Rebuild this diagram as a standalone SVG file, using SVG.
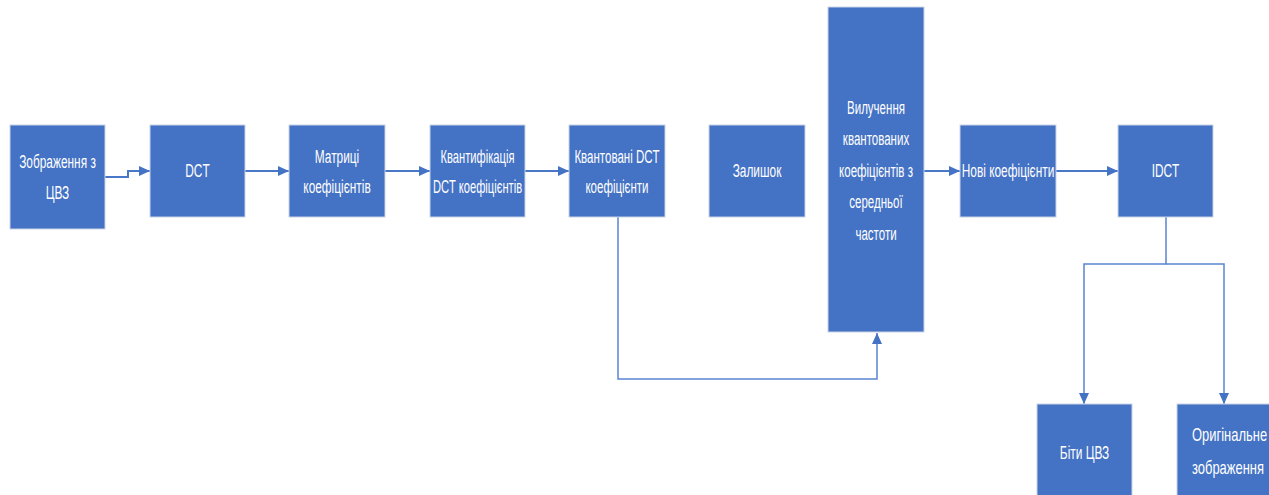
<svg xmlns="http://www.w3.org/2000/svg" width="1269" height="495" viewBox="0 0 1269 495">
<defs>
<style>
.box{fill:#4472C4;stroke:#c9d3e6;stroke-width:1}
.t{font-family:"Liberation Sans",Arial,sans-serif;font-size:18px;fill:#ffffff;text-anchor:middle}
.ts{font-family:"Liberation Sans",Arial,sans-serif;font-size:18px;fill:#ffffff;text-anchor:start}
.c{fill:none;stroke:#4a78c8;stroke-width:2}
.c2{fill:none;stroke:#5a84cf;stroke-width:1.5}
</style>
<marker id="ah" markerUnits="userSpaceOnUse" markerWidth="12" markerHeight="12" viewBox="0 0 12 12" refX="11" refY="6" orient="auto">
<path d="M0,1 L11,6 L0,11 Z" fill="#4472C4"/>
</marker>
</defs>
<rect width="1269" height="495" fill="#ffffff"/>
<g id="connectors">
<path class="c" d="M105,177 H128 V171 H150" marker-end="url(#ah)"/>
<path class="c" d="M245,171 H289" marker-end="url(#ah)"/>
<path class="c" d="M385,171 H430" marker-end="url(#ah)"/>
<path class="c" d="M525,171 H569" marker-end="url(#ah)"/>
<path class="c2" d="M618,217 V379 H877 V333" marker-end="url(#ah)"/>
<path class="c" d="M924,171 H960" marker-end="url(#ah)"/>
<path class="c" d="M1056,171 H1118" marker-end="url(#ah)"/>
<path class="c2" d="M1166,217 V264 H1084 V404" marker-end="url(#ah)"/>
<path class="c2" d="M1166,264 H1224 V404" marker-end="url(#ah)"/>
</g>
<g id="n1">
<rect class="box" x="10" y="125" width="95" height="104"/>
<text class="t" transform="translate(57.5,0) scale(0.66,1)"><tspan x="0" y="168">Зображення з</tspan><tspan x="0" y="199">ЦВЗ</tspan></text>
</g>
<g id="n2">
<rect class="box" x="150" y="125" width="95" height="92"/>
<text class="t" transform="translate(197.5,0) scale(0.66,1)" y="177">DCT</text>
</g>
<g id="n3">
<rect class="box" x="289" y="125" width="96" height="92"/>
<text class="t" transform="translate(337,0) scale(0.66,1)"><tspan x="0" y="163">Матриці</tspan><tspan x="0" y="193">коефіцієнтів</tspan></text>
</g>
<g id="n4">
<rect class="box" x="430" y="125" width="95" height="92"/>
<text class="t" transform="translate(477.5,0) scale(0.62,1)"><tspan x="0" y="163">Квантифікація</tspan><tspan x="0" y="193">DCT коефіцієнтів</tspan></text>
</g>
<g id="n5">
<rect class="box" x="569" y="125" width="96" height="92"/>
<text class="t" transform="translate(617,0) scale(0.64,1)"><tspan x="0" y="163">Квантовані DCT</tspan><tspan x="0" y="193">коефіцієнти</tspan></text>
</g>
<g id="n6">
<rect class="box" x="709" y="125" width="96" height="92"/>
<text class="t" transform="translate(757,0) scale(0.66,1)" y="177">Залишок</text>
</g>
<g id="n7">
<rect class="box" x="828" y="7" width="96" height="325"/>
<text class="t" transform="translate(876,0) scale(0.64,1)"><tspan x="0" y="114">Вилучення</tspan><tspan x="0" y="145.5">квантованих</tspan><tspan x="0" y="177">коефіцієнтів з</tspan><tspan x="0" y="208.5">середньої</tspan><tspan x="0" y="240">частоти</tspan></text>
</g>
<g id="n8">
<rect class="box" x="960" y="125" width="96" height="92"/>
<text class="t" transform="translate(1008,0) scale(0.66,1)" y="177">Нові коефіцієнти</text>
</g>
<g id="n9">
<rect class="box" x="1118" y="125" width="95" height="92"/>
<text class="t" transform="translate(1165.5,0) scale(0.66,1)" y="177">IDCT</text>
</g>
<g id="n10">
<rect class="box" x="1037" y="404" width="95" height="95"/>
<text class="t" transform="translate(1084.5,0) scale(0.66,1)" y="459">Біти ЦВЗ</text>
</g>
<g id="n11">
<rect class="box" x="1177" y="404" width="100" height="95"/>
<text class="ts" transform="translate(1192,0) scale(0.72,1)"><tspan x="0" y="441">Оригінальне</tspan><tspan x="0" y="474">зображення</tspan></text>
</g>
</svg>
